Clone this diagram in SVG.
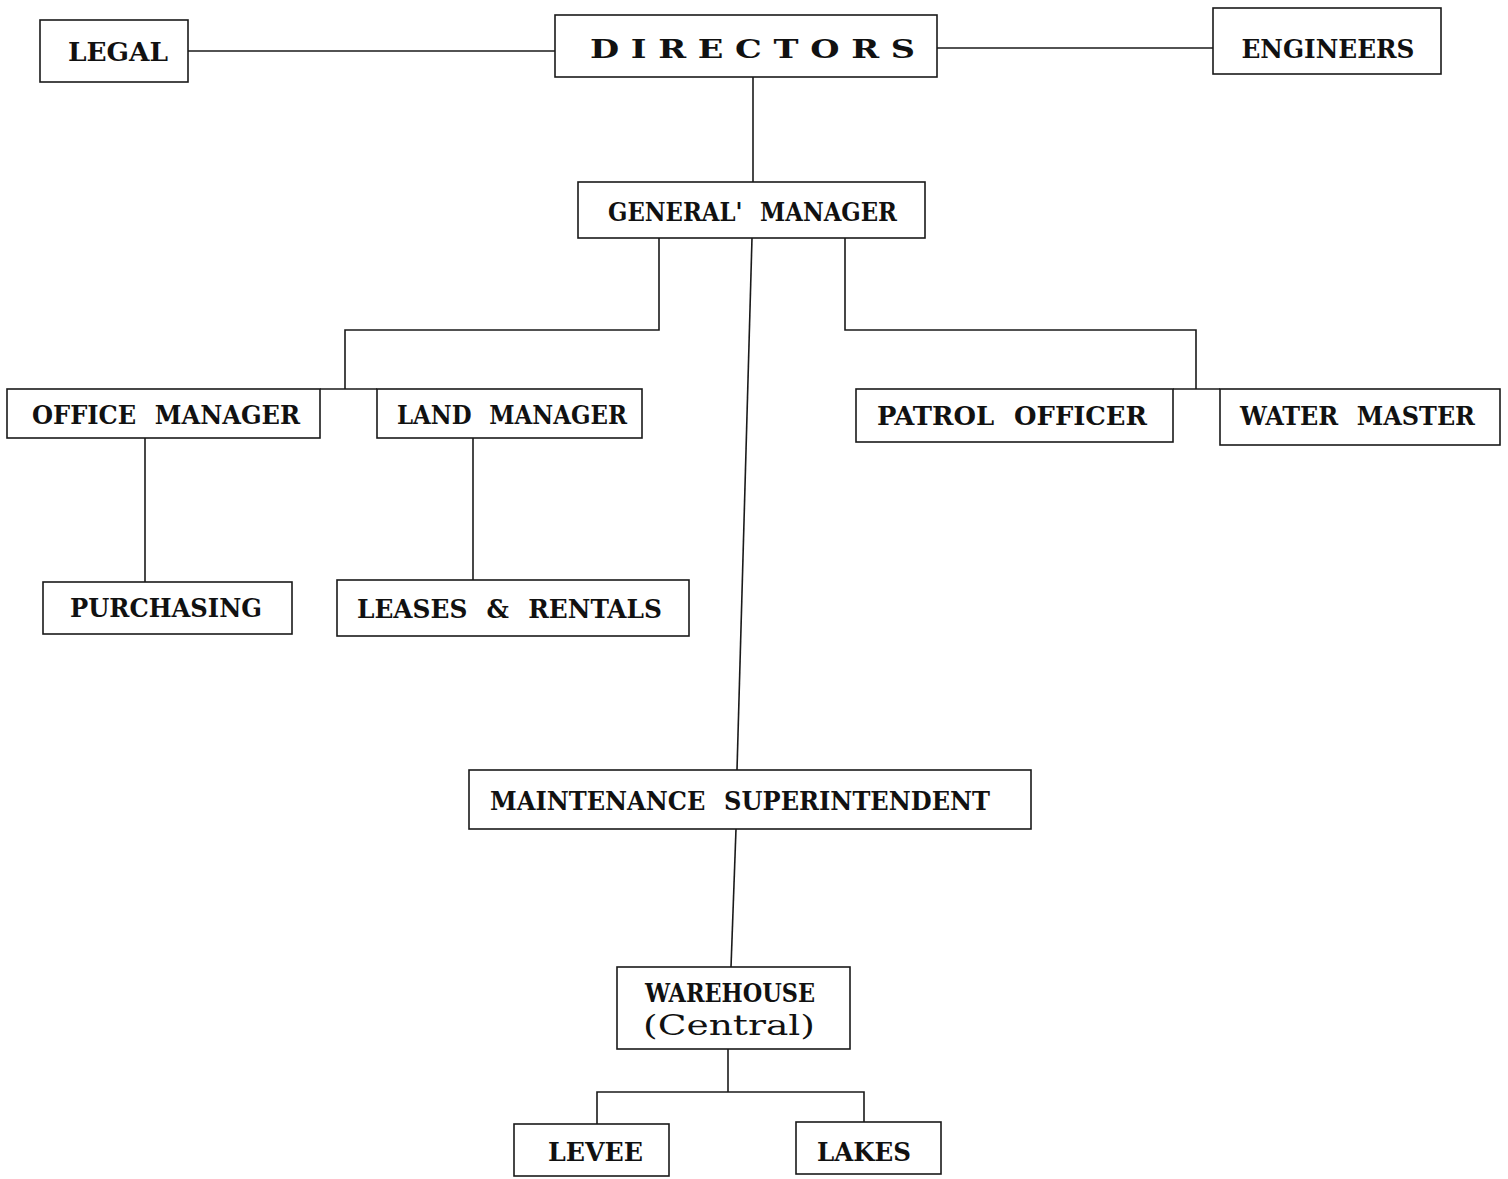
<svg xmlns="http://www.w3.org/2000/svg" width="1508" height="1179" viewBox="0 0 1508 1179">
<style>
.box{fill:#fff;stroke:#1a1a1a;stroke-width:1.6}
.lbl{font-family:"DejaVu Serif","Liberation Serif",serif;font-stretch:condensed;font-size:26px;font-weight:bold;fill:#111;text-anchor:middle;word-spacing:10px}
.lbl2{font-family:"DejaVu Serif","Liberation Serif",serif;font-stretch:condensed;font-size:27px;fill:#111;text-anchor:middle}
.con{fill:none;stroke:#1a1a1a;stroke-width:1.6}
</style>
<rect width="1508" height="1179" fill="#fff"/>
<g id="connectors">
<path class="con" d="M188 51 H555"/>
<path class="con" d="M937 48 H1213"/>
<path class="con" d="M753 77 V182"/>
<path class="con" d="M659 238 V330 H345 V389"/>
<path class="con" d="M320 389 H377"/>
<path class="con" d="M845 238 V330 H1196 V389"/>
<path class="con" d="M1173 389 H1220"/>
<path class="con" d="M752 238 L737 770"/>
<path class="con" d="M145 438 V582"/>
<path class="con" d="M473 438 V580"/>
<path class="con" d="M736 829 L731 967"/>
<path class="con" d="M728 1049 V1092"/>
<path class="con" d="M597 1124 V1092 H864 V1122"/>
</g>
<g id="legal"><rect class="box" x="40" y="20" width="148" height="62"/><text class="lbl" x="118" y="61" textLength="100" lengthAdjust="spacingAndGlyphs">LEGAL</text></g>
<g id="directors"><rect class="box" x="555" y="15" width="382" height="62"/><text class="lbl" x="752.5" y="58" textLength="325" lengthAdjust="spacingAndGlyphs" style="word-spacing:0">D I R E C T O R S</text></g>
<g id="engineers"><rect class="box" x="1213" y="8" width="228" height="66"/><text class="lbl" x="1328" y="58" textLength="173" lengthAdjust="spacingAndGlyphs">ENGINEERS</text></g>
<g id="general-manager"><rect class="box" x="578" y="182" width="347" height="56"/><text class="lbl" x="752.5" y="221" textLength="289" lengthAdjust="spacingAndGlyphs">GENERAL' MANAGER</text></g>
<g id="office-manager"><rect class="box" x="7" y="389" width="313" height="49"/><text class="lbl" x="166" y="424" textLength="268" lengthAdjust="spacingAndGlyphs">OFFICE MANAGER</text></g>
<g id="land-manager"><rect class="box" x="377" y="389" width="265" height="49"/><text class="lbl" x="512" y="424" textLength="230" lengthAdjust="spacingAndGlyphs">LAND MANAGER</text></g>
<g id="patrol-officer"><rect class="box" x="856" y="389" width="317" height="53"/><text class="lbl" x="1012" y="425" textLength="270" lengthAdjust="spacingAndGlyphs">PATROL OFFICER</text></g>
<g id="water-master"><rect class="box" x="1220" y="389" width="280" height="56"/><text class="lbl" x="1357.5" y="425" textLength="235" lengthAdjust="spacingAndGlyphs">WATER MASTER</text></g>
<g id="purchasing"><rect class="box" x="43" y="582" width="249" height="52"/><text class="lbl" x="166" y="617" textLength="192" lengthAdjust="spacingAndGlyphs">PURCHASING</text></g>
<g id="leases-rentals"><rect class="box" x="337" y="580" width="352" height="56"/><text class="lbl" x="509.5" y="618" textLength="305" lengthAdjust="spacingAndGlyphs">LEASES &amp; RENTALS</text></g>
<g id="maintenance-superintendent"><rect class="box" x="469" y="770" width="562" height="59"/><text class="lbl" x="740" y="810" textLength="500" lengthAdjust="spacingAndGlyphs">MAINTENANCE SUPERINTENDENT</text></g>
<g id="warehouse"><rect class="box" x="617" y="967" width="233" height="82"/><text class="lbl" x="730" y="1002" textLength="170" lengthAdjust="spacingAndGlyphs">WAREHOUSE</text><text class="lbl2" x="729" y="1035" textLength="172" lengthAdjust="spacingAndGlyphs">(Central)</text></g>
<g id="levee"><rect class="box" x="514" y="1124" width="155" height="52"/><text class="lbl" x="595.5" y="1161" textLength="95" lengthAdjust="spacingAndGlyphs">LEVEE</text></g>
<g id="lakes"><rect class="box" x="796" y="1122" width="145" height="52"/><text class="lbl" x="864" y="1161" textLength="94" lengthAdjust="spacingAndGlyphs">LAKES</text></g>
</svg>
